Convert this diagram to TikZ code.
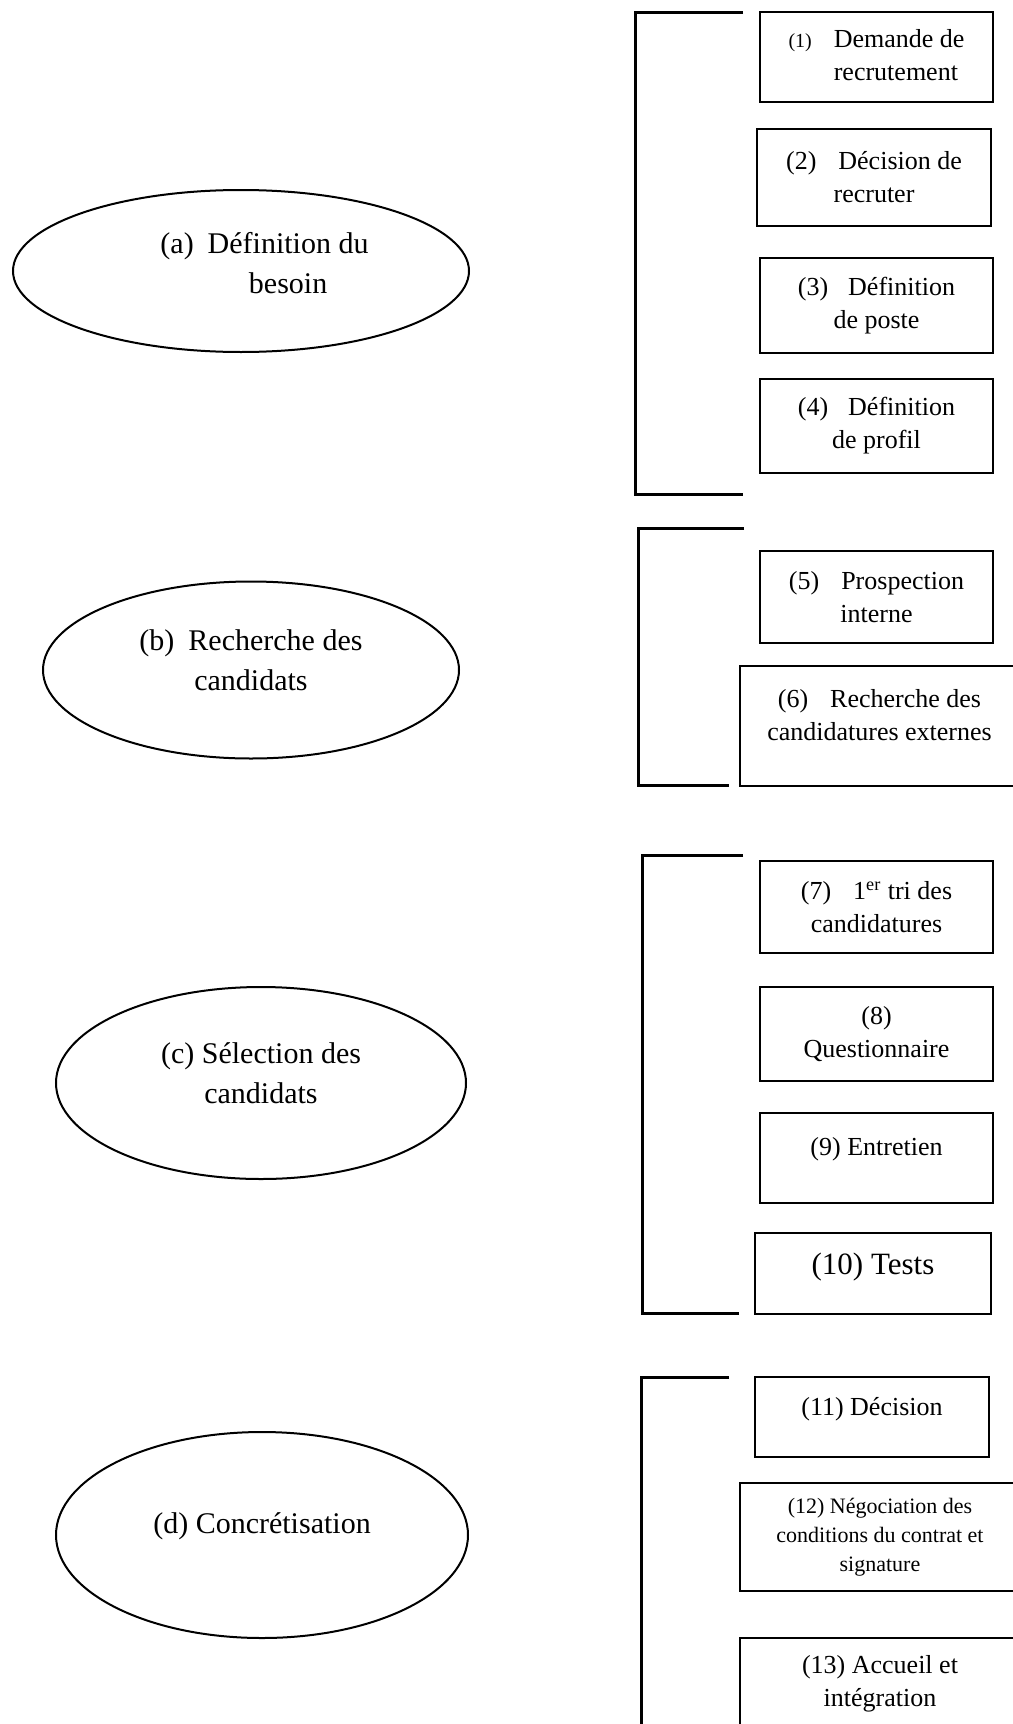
\documentclass[tikz,border=0pt]{standalone}
\usepackage{fontspec}
\setmainfont{Liberation Serif}
\usetikzlibrary{shapes.geometric}

\begin{document}
\begin{tikzpicture}[
      x=0.5pt, y=-0.5pt,
      phase/.style={draw, ellipse, line width=1pt, inner sep=0pt},
      phasetxt/.style={align=center, inner sep=0pt, font=\fontsize{15}{20}\selectfont},
      task/.style={draw, line width=1pt, inner sep=0pt, minimum width=116.5pt, align=center, font=\fontsize{13}{16.5}\selectfont},
      widetask/.style={task, minimum width=140pt},
      bracket/.style={line width=1.5pt}
    ]
      \useasboundingbox (0,0) rectangle (1012,1724);

      % phases
      \node[phase, minimum width=228pt, minimum height=81pt] (besoin) at (241,271) {};
      \node[phase, minimum width=208pt, minimum height=88.5pt] (recherche) at (251,670) {};
      \node[phase, minimum width=205pt, minimum height=96pt] (selection) at (261,1083) {};
      \node[phase, minimum width=206pt, minimum height=103pt] (concret) at (262,1535) {};
      \node[phasetxt] (besointxt) at (264.5,265) {\begin{tabular}{@{}l@{\hspace{7pt}}c@{}}(a)&Définition du\\&besoin\end{tabular}};
      \node[phasetxt] (recherchetxt) at (251,660) {(b)\hspace{7pt}Recherche des\\candidats};
      \node[phasetxt] (selectiontxt) at (261,1073) {(c) Sélection des\\candidats};
      \node[phasetxt] (concrettxt) at (262,1526) {(d) Concrétisation};

      % tasks
      \node[task, minimum height=45pt] (demande) at (876.5,57) {\begin{tabular}{@{}l@{\hspace{11pt}}l@{}}{\fontsize{10}{12}\selectfont(1)}&Demande de\\&recrutement\end{tabular}};
      \node[task, minimum width=117pt, minimum height=48.5pt] (decision) at (874,177.5) {(2)\hspace{11pt}Décision de\\recruter};
      \node[task, minimum height=47.5pt] (poste) at (876.5,305.5) {(3)\hspace{10pt}Définition\\de poste};
      \node[task, minimum height=47pt] (profil) at (876.5,426) {(4)\hspace{10pt}Définition\\de profil};
      \node[task, minimum height=46pt] (interne) at (876.5,597) {(5)\hspace{11pt}Prospection\\interne};
      \node[widetask, minimum height=60pt, text height=20pt, text depth=6pt] (externe) at (879.5,726) {(6)\hspace{11pt}Recherche des\\candidatures externes};
      \node[task, minimum height=46pt] (tri) at (876.5,907) {(7)\hspace{11pt}1\textsuperscript{er} tri des\\candidatures};
      \node[task, minimum height=47pt] (questionnaire) at (876.5,1034) {(8)\\Questionnaire};
      \node[task, minimum height=45pt, text height=8pt, text depth=10.4pt] (entretien) at (876.5,1158) {(9) Entretien};
      \node[task, minimum width=118pt, minimum height=40.5pt, text height=10pt, text depth=9.3pt, font=\fontsize{15.5}{18}\selectfont] (tests) at (873,1273.5) {(10) Tests};
      \node[task, minimum width=117pt, minimum height=40pt, text height=8pt, text depth=9.4pt] (decisionfin) at (872,1417) {(11) Décision};
      \node[widetask, minimum height=54pt, font=\fontsize{11}{14.5}\selectfont] (negociation) at (880,1537) {(12) Négociation des\\conditions du contrat et\\signature};
      \node[widetask, minimum height=46pt] (accueil) at (880,1684) {(13) Accueil et\\intégration};

      % brackets
      \draw[bracket] (743,12) -- (635,12) -- (635,494) -- (743,494);
      \draw[bracket] (744,528) -- (638,528) -- (638,785) -- (729,785);
      \draw[bracket] (743,855) -- (642,855) -- (642,1313) -- (739,1313);
      \draw[bracket] (729,1377) -- (641,1377) -- (641,1740);
\end{tikzpicture}
\end{document}
